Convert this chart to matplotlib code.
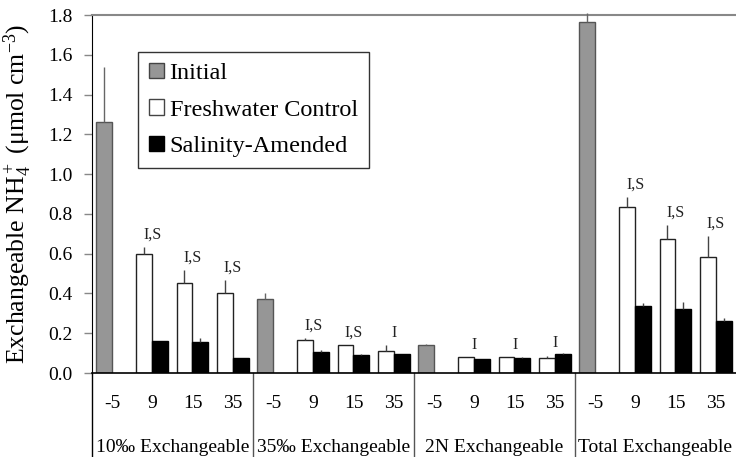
import matplotlib
matplotlib.use("Agg")
import matplotlib.pyplot as plt
import matplotlib.transforms as mtransforms
from matplotlib.patches import Patch
import numpy as np

plt.rcParams['font.family'] = ['Liberation Serif', 'DejaVu Serif']
plt.rcParams['mathtext.fontset'] = 'custom'
plt.rcParams['mathtext.rm'] = 'Liberation Serif'
plt.rcParams['mathtext.it'] = 'Liberation Serif:italic'

groups = ["10‰ Exchangeable", "35‰ Exchangeable", "2N Exchangeable", "Total Exchangeable"]
temps = ["-5", "9", "15", "35"]

initial_vals = [1.26, 0.37, 0.14, 1.765]
initial_err = [0.28, 0.03, 0.006, 0.045]

fresh_vals = [0.600, 0.455, 0.400, 0.166, 0.142, 0.109, 0.079, 0.079, 0.074, 0.837, 0.676, 0.582]
fresh_err = [0.033, 0.065, 0.070, 0.010, 0.000, 0.030, 0.000, 0.000, 0.013, 0.049, 0.069, 0.109]

salin_vals = [0.163, 0.158, 0.074, 0.106, 0.092, 0.097, 0.069, 0.074, 0.097, 0.339, 0.324, 0.263]
salin_err = [0.000, 0.018, 0.000, 0.008, 0.004, 0.000, 0.000, 0.008, 0.005, 0.012, 0.033, 0.012]

sig_labels = ["I,S", "I,S", "I,S", "I,S", "I,S", "I", "I", "I", "I", "I,S", "I,S", "I,S"]

fig = plt.figure(figsize=(7.36, 4.57), dpi=100)
ax = fig.add_axes([92/736, (457-373)/457, 1 - 92/736, (373-15)/457])

ng = len(groups)
nt = len(temps)
init_x = np.array([g*nt for g in range(ng)], dtype=float)
treat_x = np.array([g*nt + t for g in range(ng) for t in range(1, nt)], dtype=float)

w = 0.395
gray = '#969696'
ax.bar(init_x + 0.1, initial_vals, width=w, align='edge', color=gray, edgecolor='#555555', linewidth=1, zorder=2)
ax.bar(treat_x + 0.1, fresh_vals, width=w, align='edge', color='white', edgecolor='#222222', linewidth=1, zorder=2)
ax.bar(treat_x + 0.1 + w, salin_vals, width=w, align='edge', color='black', edgecolor='black', linewidth=1, zorder=2)

ecol = '#444444'
ax.errorbar(init_x + 0.1 + w/2, initial_vals, yerr=[np.zeros(len(initial_vals)), initial_err],
            fmt='none', ecolor='#666666', elinewidth=1, capsize=0, zorder=3, clip_on=False)
ax.errorbar(treat_x + 0.1 + w/2, fresh_vals, yerr=[np.zeros(len(fresh_vals)), fresh_err],
            fmt='none', ecolor=ecol, elinewidth=1, capsize=0, zorder=3)
ax.errorbar(treat_x + 0.1 + 1.5*w, salin_vals, yerr=[np.zeros(len(salin_vals)), salin_err],
            fmt='none', ecolor=ecol, elinewidth=1, capsize=0, zorder=3)

fresh_top = np.array(fresh_vals) + np.array(fresh_err)
for x, top, lab in zip(treat_x, fresh_top, sig_labels):
    ax.annotate(lab, (x + 0.5, top), xytext=(0, 6), textcoords='offset points',
                ha='center', va='baseline', fontsize=11.5, color='#222222')

ax.set_xlim(0, ng*nt)
ax.set_ylim(0, 1.8)
ax.set_yticks(np.arange(0, 1.81, 0.2))
ax.set_yticklabels([f"{v:.1f}" for v in np.arange(0, 1.81, 0.2)], fontsize=14)
ax.tick_params(axis='y', direction='out', length=6, width=1, color='#888888', pad=8)
ax.set_xticks([])

ax.spines['right'].set_visible(False)
ax.spines['top'].set_color('#888888')
ax.spines['top'].set_linewidth(1.5)
ax.spines['left'].set_color('black')
ax.spines['bottom'].set_color('black')
ax.spines['bottom'].set_linewidth(1.2)

trans = mtransforms.blended_transform_factory(ax.transData, ax.transAxes)
bottom_frac = -84/358
for g in range(ng):
    ax.plot([g*nt, g*nt], [0, bottom_frac], transform=trans, color='#555555' if g else 'black',
            linewidth=1, clip_on=False)
    ax.text(g*nt + nt/2, -74/358, groups[g], transform=trans, ha='center', va='center', fontsize=14)
    for t in range(nt):
        ax.text(g*nt + t + 0.5, -31/358, temps[t], transform=trans, ha='center', va='center', fontsize=14)

ax.set_ylabel(r"Exchangeable NH$_4^+$ (μmol cm$^{-3}$)", fontsize=18.5, labelpad=10)
ax.yaxis.set_label_coords(-0.09, 0.5)

handles = [Patch(facecolor=gray, edgecolor='#444444'),
           Patch(facecolor='white', edgecolor='#444444'),
           Patch(facecolor='black', edgecolor='black')]
leg = ax.legend(handles, ["Initial", "Freshwater Control", "Salinity-Amended"],
                loc='upper left', bbox_to_anchor=((138-92)/644, (373-52)/358),
                borderaxespad=0, fontsize=17.5, frameon=True, fancybox=False,
                handlelength=0.6, handleheight=0.6, handletextpad=0.25,
                labelspacing=0.62, borderpad=0.45)
leg.get_frame().set_edgecolor('black')
leg.get_frame().set_linewidth(1)

fig.savefig("out.png", dpi=100)
